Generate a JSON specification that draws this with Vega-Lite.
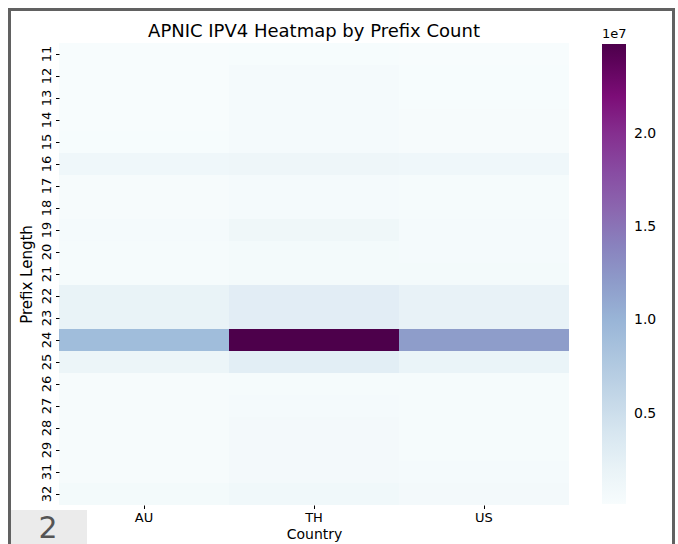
{
  "$schema": "https://vega.github.io/schema/vega-lite/v6.json",
  "autosize": "none",
  "width": 510,
  "height": 462,
  "padding": {"left": 59, "top": 43, "right": 109, "bottom": 39},
  "background": "white",
  "config": {
    "font": "DejaVu Sans",
    "view": {"stroke": null},
    "axis": {"domain": false, "tickColor": "#000", "tickSize": 3.5, "tickWidth": 1, "labelColor": "#000", "titleColor": "#000", "labelFontSize": 13, "titleFontSize": 14, "titleFontWeight": "normal", "grid": false}
  },
  "title": {"text": "APNIC IPV4 Heatmap by Prefix Count", "fontSize": 18, "fontWeight": "normal", "color": "#000", "offset": -33, "anchor": "middle", "frame": "group"},
  "layer": [
    {
      "data": {"values": [
        {"country": "AU", "prefix": 11, "count": 160000}, {"country": "TH", "prefix": 11, "count": 250000}, {"country": "US", "prefix": 11, "count": 220000},
        {"country": "AU", "prefix": 12, "count": 200000}, {"country": "TH", "prefix": 12, "count": 500000}, {"country": "US", "prefix": 12, "count": 250000},
        {"country": "AU", "prefix": 13, "count": 200000}, {"country": "TH", "prefix": 13, "count": 500000}, {"country": "US", "prefix": 13, "count": 250000},
        {"country": "AU", "prefix": 14, "count": 200000}, {"country": "TH", "prefix": 14, "count": 550000}, {"country": "US", "prefix": 14, "count": 300000},
        {"country": "AU", "prefix": 15, "count": 250000}, {"country": "TH", "prefix": 15, "count": 550000}, {"country": "US", "prefix": 15, "count": 300000},
        {"country": "AU", "prefix": 16, "count": 1100000}, {"country": "TH", "prefix": 16, "count": 1300000}, {"country": "US", "prefix": 16, "count": 1100000},
        {"country": "AU", "prefix": 17, "count": 300000}, {"country": "TH", "prefix": 17, "count": 500000}, {"country": "US", "prefix": 17, "count": 350000},
        {"country": "AU", "prefix": 18, "count": 300000}, {"country": "TH", "prefix": 18, "count": 500000}, {"country": "US", "prefix": 18, "count": 350000},
        {"country": "AU", "prefix": 19, "count": 500000}, {"country": "TH", "prefix": 19, "count": 1200000}, {"country": "US", "prefix": 19, "count": 500000},
        {"country": "AU", "prefix": 20, "count": 400000}, {"country": "TH", "prefix": 20, "count": 600000}, {"country": "US", "prefix": 20, "count": 500000},
        {"country": "AU", "prefix": 21, "count": 400000}, {"country": "TH", "prefix": 21, "count": 650000}, {"country": "US", "prefix": 21, "count": 600000},
        {"country": "AU", "prefix": 22, "count": 1900000}, {"country": "TH", "prefix": 22, "count": 3000000}, {"country": "US", "prefix": 22, "count": 2100000},
        {"country": "AU", "prefix": 23, "count": 1900000}, {"country": "TH", "prefix": 23, "count": 3000000}, {"country": "US", "prefix": 23, "count": 2100000},
        {"country": "AU", "prefix": 24, "count": 9200000}, {"country": "TH", "prefix": 24, "count": 24800000}, {"country": "US", "prefix": 24, "count": 11900000},
        {"country": "AU", "prefix": 25, "count": 1600000}, {"country": "TH", "prefix": 25, "count": 2900000}, {"country": "US", "prefix": 25, "count": 1800000},
        {"country": "AU", "prefix": 26, "count": 300000}, {"country": "TH", "prefix": 26, "count": 400000}, {"country": "US", "prefix": 26, "count": 350000},
        {"country": "AU", "prefix": 27, "count": 300000}, {"country": "TH", "prefix": 27, "count": 500000}, {"country": "US", "prefix": 27, "count": 350000},
        {"country": "AU", "prefix": 28, "count": 300000}, {"country": "TH", "prefix": 28, "count": 700000}, {"country": "US", "prefix": 28, "count": 400000},
        {"country": "AU", "prefix": 29, "count": 300000}, {"country": "TH", "prefix": 29, "count": 700000}, {"country": "US", "prefix": 29, "count": 400000},
        {"country": "AU", "prefix": 31, "count": 300000}, {"country": "TH", "prefix": 31, "count": 700000}, {"country": "US", "prefix": 31, "count": 500000},
        {"country": "AU", "prefix": 32, "count": 600000}, {"country": "TH", "prefix": 32, "count": 1000000}, {"country": "US", "prefix": 32, "count": 700000}
      ]},
      "mark": {"type": "rect", "strokeWidth": 0},
      "encoding": {
        "x": {"field": "country", "type": "nominal", "title": "Country", "scale": {"paddingInner": 0, "paddingOuter": 0},
              "axis": {"labelAngle": 0, "labelPadding": 3, "titlePadding": 3}},
        "y": {"field": "prefix", "type": "ordinal", "title": "Prefix Length", "sort": "ascending", "scale": {"paddingInner": 0, "paddingOuter": 0},
              "axis": {"labelAngle": 270, "labelAlign": "center", "labelBaseline": "bottom", "labelPadding": 2, "titlePadding": 6, "titleFontSize": 15}},
        "color": {"field": "count", "type": "quantitative",
                  "scale": {"domain": [160000, 3240000, 6320000, 9400000, 12480000, 15560000, 18640000, 21720000, 24800000],
                            "range": ["#f7fcfd", "#e0ecf4", "#bfd3e6", "#9ebcda", "#8c96c6", "#8c6bb1", "#88419d", "#810f7c", "#4d004b"]},
                  "legend": {"orient": "none", "legendX": 543, "legendY": -15, "direction": "vertical", "gradientLength": 460, "gradientThickness": 24,
                             "gradientStrokeWidth": 0, "title": "1e7", "titleFontSize": 13, "titleFontWeight": "normal", "titleColor": "#000", "titlePadding": 3,
                             "titleAnchor": "start", "values": [5000000, 10000000, 15000000, 20000000], "labelExpr": "format(datum.value / 10000000, '.1f')",
                             "labelFontSize": 14, "labelColor": "#000", "labelOffset": 8, "labelOverlap": false, "padding": 0}}
      }
    },
    {
      "data": {"values": [{"box": "frame"}]},
      "mark": {"type": "rect", "fill": null, "stroke": "#616161", "strokeWidth": 3, "clip": false},
      "encoding": {"x": {"value": -49.5}, "x2": {"value": 614.5}, "y": {"value": -33.5}, "y2": {"value": 530}}
    },
    {
      "data": {"values": [{"label": "2"}]},
      "mark": {"type": "rect", "fill": "#ebebeb", "clip": false},
      "encoding": {"x": {"value": -48}, "x2": {"value": 28}, "y": {"value": 467}, "y2": {"value": 510}}
    },
    {
      "data": {"values": [{"label": "2"}]},
      "mark": {"type": "text", "fontSize": 30, "color": "#555555", "align": "center", "baseline": "middle", "clip": false},
      "encoding": {"text": {"field": "label"}, "x": {"value": -11}, "y": {"value": 486}}
    }
  ]
}
